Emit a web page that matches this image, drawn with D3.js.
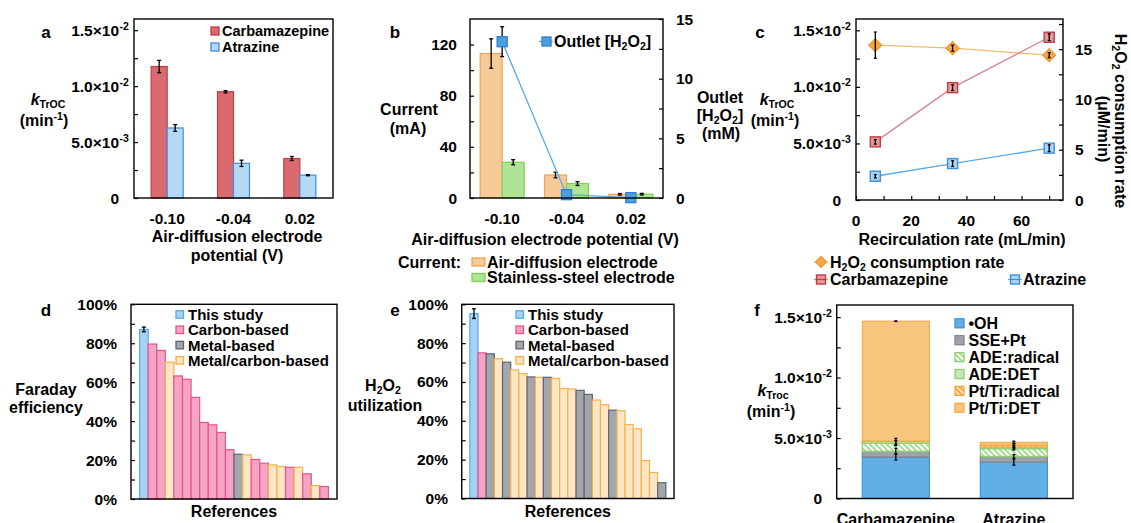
<!DOCTYPE html>
<html>
<head>
<meta charset="utf-8">
<script src="https://cdn.jsdelivr.net/npm/d3@7"></script>
<style>
  body { margin: 0; background: #fff; }
  svg { display: block; font-family: "Liberation Sans", Arial, sans-serif; font-weight: bold; }
</style>
</head>
<body>
<div id="canvas"></div>
<script>
// ---- a: k vs potential
const potentials = ["-0.10", "-0.04", "0.02"];
const kCarbPot = [0.01175, 0.0095, 0.00353];
const kCarbPotErr = [0.00055, 0.0001, 0.00018];
const kAtrPot = [0.00626, 0.0031, 0.00204];
const kAtrPotErr = [0.0003, 0.00028, 0.00005];

// ---- b: current and outlet H2O2
const currentADE = [113, 18, 2.9];
const currentADEErr = [11.5, 2.2, 0.6];
const currentSSE = [28, 11.3, 3];
const currentSSEErr = [2, 1.5, 0.6];
const outletH2O2 = [13.1, 0.28, 0.03];
const outletH2O2Err = [1.25, 0.12, 0.05];

// ---- c: recirculation rate
const recircRates = [7, 35, 70];
const kCarbFlow = [0.00514, 0.00993, 0.01439];
const kCarbFlowErr = [0.0002, 0.00025, 0.0003];
const kAtrFlow = [0.0021, 0.00322, 0.00458];
const kAtrFlowErr = [0.00015, 0.00025, 0.0003];
const h2o2Rate = [15.4, 15.1, 14.4];
const h2o2RateErr = [1.3, 0.3, 0.25];

// ---- d: faraday efficiency (T = this study, C = carbon, M = metal, MC = metal/carbon)
const faradayType = ["T","C","C","MC","C","C","C","C","C","C","C","M","MC","C","C","MC","MC","C","MC","C","MC","C"];
const faradayEff = [0.871,0.796,0.763,0.703,0.632,0.615,0.522,0.393,0.381,0.342,0.253,0.230,0.227,0.203,0.184,0.175,0.167,0.163,0.163,0.129,0.069,0.064];
const faradayErr = [0.012];

// ---- e: H2O2 utilization
const utilType = ["T","C","M","MC","M","MC","MC","M","MC","M","MC","MC","MC","M","M","MC","MC","M","MC","MC","MC","MC","MC","M"];
const utilization = [0.952,0.75,0.745,0.72,0.702,0.662,0.643,0.626,0.624,0.624,0.619,0.567,0.564,0.557,0.536,0.507,0.483,0.455,0.452,0.381,0.359,0.195,0.134,0.081];
const utilErr = [0.025];

// ---- f: contributions
const pollutants = ["Carbamazepine", "Atrazine"];
const mechanisms = ["•OH", "SSE+Pt", "ADE:radical", "ADE:DET", "Pt/Ti:radical", "Pt/Ti:DET"];
const contribCarb = [0.00343, 0.00047, 0.00068, 0.00014, 0.00003, 0.00991];
const contribAtr = [0.00301, 0.00047, 0.00064, 0.00013, 0.00016, 0.00023];
const contribCarbErr = [0.00025, 0.00025, 0.0002, 0.00025, 0, 0.00002];
const contribAtrErr = [0.00025, 0.00015, 0.0001, 0.00015, 0.00015, 0.0001];

const kTicks = [0, 0.005, 0.01, 0.015];
const kMinor = [0.0025, 0.0075, 0.0125];
const currentTicks = [0, 40, 80, 120];
const outletTicks = [0, 5, 10, 15];
const flowTicks = [0, 20, 40, 60];
const pctTicks = [0, 0.2, 0.4, 0.6, 0.8, 1];

const typeNames = {T: "This study", C: "Carbon-based", M: "Metal-based", MC: "Metal/carbon-based"};
const typeFill = {T: "#a7d1f3", C: "#f4a4c4", M: "#a3a7ad", MC: "#fde5c6"};
const typeStroke = {T: "#5aaae8", C: "#e8528e", M: "#5f656d", MC: "#f5b24a"};

const svg = d3.select("#canvas").append("svg").attr("width", 1131).attr("height", 523);
const defs = svg.append("defs");

function hatch(id, bg, fg) {
  const p = defs.append("pattern").attr("id", id).attr("patternUnits", "userSpaceOnUse")
    .attr("width", 4).attr("height", 4).attr("patternTransform", "rotate(-45)");
  p.append("rect").attr("width", 4).attr("height", 4).attr("fill", bg);
  p.append("rect").attr("width", 2).attr("height", 4).attr("fill", fg);
}
hatch("hatchGreen", "#ffffff", "#a9dc8e");
hatch("hatchOrange", "#fde3bf", "#f5a742");

// text with sub/superscript parts
function rich(x, y, parts, size, anchor = "middle") {
  const t = svg.append("text").attr("x", x).attr("y", y).attr("font-size", size).attr("text-anchor", anchor);
  let off = 0;
  parts.forEach(p => {
    const [s, kind] = typeof p === "string" ? [p, null] : p;
    const target = kind === "sub" ? size * 0.2 : kind === "sup" ? -size * 0.38 : 0;
    const ts = t.append("tspan").text(s).attr("dy", target - off);
    if (kind === "sub" || kind === "sup") ts.attr("font-size", size * 0.66);
    if (kind === "it") ts.attr("font-style", "italic");
    off = target;
  });
  return t;
}

function frame(x0, x1, y0, y1) {
  svg.append("rect").attr("x", x0).attr("y", y0).attr("width", x1 - x0).attr("height", y1 - y0)
    .attr("fill", "none").attr("stroke", "#000").attr("stroke-width", 1.4);
}

function ticks(axisFn, scale, values, tx, ty) {
  svg.append("g").attr("transform", `translate(${tx},${ty})`)
    .call(axisFn(scale).tickValues(values).tickSize(-4).tickFormat(""))
    .call(g => g.select(".domain").remove())
    .call(g => g.selectAll("line").attr("stroke-width", 1.2));
}

function sciLabel(x, y, v) {
  if (v === 0) {
    svg.append("text").attr("x", x).attr("y", y).attr("font-size", 15.5).attr("text-anchor", "end").text("0");
    return;
  }
  const e = Math.floor(Math.log10(v) + 1e-9);
  const m = (v / Math.pow(10, e)).toFixed(1);
  svg.append("text").attr("x", x).attr("y", y).attr("font-size", 15.5).attr("text-anchor", "end").text(m + "×10");
  svg.append("text").attr("x", x + 0.5).attr("y", y - 6).attr("font-size", 10.5).text(String(e));
}

function errbar(x, y1, y2, cap = 2) {
  const g = svg.append("g").attr("stroke", "#000").attr("stroke-width", 1.3);
  g.append("line").attr("x1", x).attr("x2", x).attr("y1", y1).attr("y2", y2);
  g.append("line").attr("x1", x - cap).attr("x2", x + cap).attr("y1", y1).attr("y2", y1);
  g.append("line").attr("x1", x - cap).attr("x2", x + cap).attr("y1", y2).attr("y2", y2);
}

function letter(x, y, s) {
  svg.append("text").attr("x", x).attr("y", y).attr("font-size", 17).attr("text-anchor", "middle").text(s);
}

function legendBox(x, y, w, h, fill, stroke) {
  svg.append("rect").attr("x", x).attr("y", y - h / 2).attr("width", w).attr("height", h)
    .attr("fill", fill).attr("stroke", stroke).attr("stroke-width", 1.3);
}

const red = {fill: "#d96a70", stroke: "#c23b44"};
const blue = {fill: "#b5d8f5", stroke: "#3d8fdc"};

// ================= panel a =================
{
  const x = d3.scaleBand().domain(potentials).range([134, 333]);
  const y = d3.scaleLinear().domain([0, 0.016]).range([198, 19]);
  const sub = d3.scaleBand().domain(["carb", "atr"]).range([x.bandwidth() / 2 - 16, x.bandwidth() / 2 + 16]);
  const series = [
    {key: "carb", vals: kCarbPot, errs: kCarbPotErr, c: red},
    {key: "atr", vals: kAtrPot, errs: kAtrPotErr, c: blue}
  ];
  series.forEach(s => {
    svg.append("g").selectAll("rect").data(potentials).enter().append("rect")
      .attr("x", d => x(d) + sub(s.key)).attr("width", sub.bandwidth())
      .attr("y", (d, i) => y(s.vals[i])).attr("height", (d, i) => y(0) - y(s.vals[i]))
      .attr("fill", s.c.fill).attr("stroke", s.c.stroke).attr("stroke-width", 1.2);
  });
  series.forEach(s => potentials.forEach((d, i) => {
    const cx = x(d) + sub(s.key) + sub.bandwidth() / 2;
    errbar(cx, y(s.vals[i] + s.errs[i]), y(s.vals[i] - s.errs[i]));
  }));
  frame(134, 333, 19, 198);
  ticks(d3.axisLeft, y, kTicks.concat(kMinor), 134, 0);
  kTicks.forEach(v => sciLabel(119, y(v) + 5.5, v));
  potentials.forEach(p => svg.append("text").attr("x", x(p) + x.bandwidth() / 2).attr("y", 223.5)
    .attr("font-size", 15.5).attr("text-anchor", "middle").text(p));
  svg.append("text").attr("x", 237).attr("y", 241.5).attr("font-size", 16).attr("text-anchor", "middle").text("Air-diffusion electrode");
  svg.append("text").attr("x", 237).attr("y", 261).attr("font-size", 16).attr("text-anchor", "middle").text("potential (V)");
  rich(48, 104.5, [["k", "it"], ["TrOC", "sub"]], 16);
  rich(44, 126, ["(min", ["-1", "sup"], ")"], 16);
  letter(46, 38, "a");
  legendBox(211, 31, 8, 8, red.fill, red.stroke);
  legendBox(211, 47, 8, 8, blue.fill, blue.stroke);
  svg.append("text").attr("x", 222).attr("y", 36).attr("font-size", 14.5).text("Carbamazepine");
  svg.append("text").attr("x", 222).attr("y", 52).attr("font-size", 14.5).text("Atrazine");
}

// ================= panel b =================
{
  const ade = {fill: "#f6c999", stroke: "#f0a550"};
  const sse = {fill: "#aee494", stroke: "#7dd058"};
  const x = d3.scaleBand().domain(potentials).range([470, 663]);
  const y = d3.scaleLinear().domain([0, 140]).range([198, 19]);
  const yR = d3.scaleLinear().domain([0, 15]).range([198, 19]);
  const sub = d3.scaleBand().domain(["ade", "sse"]).range([x.bandwidth() / 2 - 22, x.bandwidth() / 2 + 22]);
  const series = [
    {key: "ade", vals: currentADE, errs: currentADEErr, c: ade},
    {key: "sse", vals: currentSSE, errs: currentSSEErr, c: sse}
  ];
  series.forEach(s => {
    svg.append("g").selectAll("rect").data(potentials).enter().append("rect")
      .attr("x", d => x(d) + sub(s.key)).attr("width", sub.bandwidth())
      .attr("y", (d, i) => y(s.vals[i])).attr("height", (d, i) => y(0) - y(s.vals[i]))
      .attr("fill", s.c.fill).attr("stroke", s.c.stroke).attr("stroke-width", 1.2);
  });
  series.forEach(s => potentials.forEach((d, i) => {
    const cx = x(d) + sub(s.key) + sub.bandwidth() / 2;
    errbar(cx, y(s.vals[i] + s.errs[i]), y(Math.max(0, s.vals[i] - s.errs[i])));
  }));
  const cx = d => x(d) + x.bandwidth() / 2;
  svg.append("path").datum(potentials)
    .attr("d", d3.line().x(cx).y((d, i) => yR(outletH2O2[i])))
    .attr("fill", "none").attr("stroke", "#5aaae8").attr("stroke-width", 1.3);
  potentials.forEach((d, i) => errbar(cx(d), yR(outletH2O2[i] + outletH2O2Err[i]), yR(Math.max(0, outletH2O2[i] - outletH2O2Err[i]))));
  svg.append("g").selectAll("rect").data(potentials).enter().append("rect")
    .attr("x", d => cx(d) - 5).attr("y", (d, i) => yR(outletH2O2[i]) - 5)
    .attr("width", 10).attr("height", 10)
    .attr("fill", "#4d9fe0").attr("stroke", "#2f7fcf").attr("stroke-width", 1.3);
  frame(470, 663, 19, 198);
  ticks(d3.axisLeft, y, [0, 20, 40, 60, 80, 100, 120], 470, 0);
  ticks(d3.axisRight, yR, [0, 2.5, 5, 7.5, 10, 12.5, 15], 663, 0);
  currentTicks.forEach(v => svg.append("text").attr("x", 457).attr("y", y(v) + 5.5)
    .attr("font-size", 15.5).attr("text-anchor", "end").text(v));
  outletTicks.forEach(v => svg.append("text").attr("x", 676).attr("y", yR(v) + 5.5)
    .attr("font-size", 15.5).text(v));
  potentials.forEach(p => svg.append("text").attr("x", cx(p)).attr("y", 223.5)
    .attr("font-size", 15.5).attr("text-anchor", "middle").text(p));
  svg.append("text").attr("x", 545).attr("y", 245).attr("font-size", 16).attr("text-anchor", "middle").text("Air-diffusion electrode potential (V)");
  svg.append("text").attr("x", 409).attr("y", 114.5).attr("font-size", 16).attr("text-anchor", "middle").text("Current");
  svg.append("text").attr("x", 408).attr("y", 133.5).attr("font-size", 16).attr("text-anchor", "middle").text("(mA)");
  svg.append("text").attr("x", 720).attr("y", 102.5).attr("font-size", 16).attr("text-anchor", "middle").text("Outlet");
  rich(720, 120.5, ["[H", ["2", "sub"], "O", ["2", "sub"], "]"], 16);
  svg.append("text").attr("x", 721).attr("y", 138.5).attr("font-size", 16).attr("text-anchor", "middle").text("(mM)");
  letter(395, 38, "b");
  // top legend
  svg.append("line").attr("x1", 539).attr("x2", 553).attr("y1", 41.5).attr("y2", 41.5).attr("stroke", "#5aaae8").attr("stroke-width", 1.3);
  svg.append("rect").attr("x", 542).attr("y", 37).attr("width", 9).attr("height", 9)
    .attr("fill", "#4d9fe0").attr("stroke", "#2f7fcf").attr("stroke-width", 1.3);
  rich(554, 47, ["Outlet [H", ["2", "sub"], "O", ["2", "sub"], "]"], 16, "start");
  // bottom legend
  svg.append("text").attr("x", 398).attr("y", 267.5).attr("font-size", 16).text("Current:");
  legendBox(472, 262, 13, 8, ade.fill, ade.stroke);
  legendBox(472, 277.5, 13, 8, sse.fill, sse.stroke);
  svg.append("text").attr("x", 487).attr("y", 267.5).attr("font-size", 16).text("Air-diffusion electrode");
  svg.append("text").attr("x", 487).attr("y", 283).attr("font-size", 16).text("Stainless-steel electrode");
}

// ================= panel c =================
{
  const x = d3.scaleLinear().domain([0, 75]).range([856, 1063]);
  const y = d3.scaleLinear().domain([0, 0.016]).range([200, 19]);
  const yR = d3.scaleLinear().domain([0, 18]).range([200, 19]);
  const carb = {line: "#d9858a", fill: "#e3999d", stroke: "#c23b44"};
  const atr = {line: "#5aaae8", fill: "#aed4f3", stroke: "#3d8fdc"};
  const orange = {line: "#f5b870", fill: "#f7a744", stroke: "#ec9430"};
  const sets = [
    {vals: h2o2Rate, errs: h2o2RateErr, sc: yR, c: orange, shape: "diamond"},
    {vals: kCarbFlow, errs: kCarbFlowErr, sc: y, c: carb, shape: "square"},
    {vals: kAtrFlow, errs: kAtrFlowErr, sc: y, c: atr, shape: "square"}
  ];
  sets.forEach(s => {
    svg.append("path").datum(recircRates)
      .attr("d", d3.line().x(d => x(d)).y((d, i) => s.sc(s.vals[i])))
      .attr("fill", "none").attr("stroke", s.c.line).attr("stroke-width", 1.3);
  });
  sets.forEach(s => {
    recircRates.forEach((r, i) => {
      const px = x(r), py = s.sc(s.vals[i]);
      if (s.shape === "square") {
        svg.append("rect").attr("x", px - 5).attr("y", py - 5).attr("width", 10).attr("height", 10)
          .attr("fill", s.c.fill).attr("stroke", s.c.stroke).attr("stroke-width", 1.4);
      } else {
        svg.append("path").attr("d", `M${px},${py - 6.5}L${px + 6.5},${py}L${px},${py + 6.5}L${px - 6.5},${py}Z`)
          .attr("fill", s.c.fill).attr("stroke", s.c.stroke).attr("stroke-width", 1.2);
      }
      errbar(px, s.sc(s.vals[i] + s.errs[i]), s.sc(s.vals[i] - s.errs[i]), 1.5);
    });
  });
  frame(856, 1063, 19, 200);
  ticks(d3.axisLeft, y, kTicks.concat(kMinor), 856, 0);
  ticks(d3.axisRight, yR, [0, 2.5, 5, 7.5, 10, 12.5, 15, 17.5], 1063, 0);
  ticks(d3.axisBottom, x, [0, 10, 20, 30, 40, 50, 60, 70], 0, 200);
  kTicks.forEach(v => sciLabel(841, y(v) + 5.5, v));
  outletTicks.forEach(v => svg.append("text").attr("x", 1075).attr("y", yR(v) + 5.5).attr("font-size", 15.5).text(v));
  flowTicks.forEach(v => svg.append("text").attr("x", x(v)).attr("y", 225.5).attr("font-size", 15.5)
    .attr("text-anchor", "middle").text(v));
  svg.append("text").attr("x", 962).attr("y", 245).attr("font-size", 16).attr("text-anchor", "middle").text("Recirculation rate (mL/min)");
  rich(777, 104.5, [["k", "it"], ["TrOC", "sub"]], 16);
  rich(775, 126, ["(min", ["-1", "sup"], ")"], 16);
  rich(1115, 121, ["H", ["2", "sub"], "O", ["2", "sub"], " consumption rate"], 16).attr("transform", "rotate(90,1115,121)");
  svg.append("text").attr("x", 1098).attr("y", 129).attr("font-size", 16).attr("text-anchor", "middle")
    .attr("transform", "rotate(90,1098,129)").text("(μM/min)");
  letter(760, 38, "c");
  // legend
  const lg = [
    {x: 821, y: 262, c: orange, shape: "diamond"},
    {x: 821, y: 279.5, c: carb, shape: "square"},
    {x: 1015, y: 279.5, c: atr, shape: "square"}
  ];
  lg.forEach(l => {
    svg.append("line").attr("x1", l.x - 7).attr("x2", l.x + 7).attr("y1", l.y).attr("y2", l.y).attr("stroke", l.c.line).attr("stroke-width", 1.3);
    if (l.shape === "square") {
      svg.append("rect").attr("x", l.x - 4.5).attr("y", l.y - 4.5).attr("width", 9).attr("height", 9)
        .attr("fill", l.c.fill).attr("stroke", l.c.stroke).attr("stroke-width", 1.4);
      svg.append("line").attr("x1", l.x - 4.5).attr("x2", l.x + 4.5).attr("y1", l.y).attr("y2", l.y).attr("stroke", l.c.stroke).attr("stroke-width", 1.2);
    } else {
      svg.append("path").attr("d", `M${l.x},${l.y - 5.5}L${l.x + 5.5},${l.y}L${l.x},${l.y + 5.5}L${l.x - 5.5},${l.y}Z`)
        .attr("fill", l.c.fill).attr("stroke", l.c.stroke).attr("stroke-width", 1.2);
    }
  });
  rich(830, 267.5, ["H", ["2", "sub"], "O", ["2", "sub"], " consumption rate"], 16, "start");
  svg.append("text").attr("x", 830).attr("y", 285).attr("font-size", 16).text("Carbamazepine");
  svg.append("text").attr("x", 1023).attr("y", 285).attr("font-size", 16).text("Atrazine");
}

// ================= panels d and e =================
function refPanel(types, vals, errs, x0, x1, y0, y1, labelX, legX, title, letterPos) {
  const refs = vals.map((v, i) => "ref" + i);
  const x = d3.scaleBand().domain(refs).range([x0, x1]).paddingInner(0).paddingOuter(1);
  const y = d3.scaleLinear().domain([0, 1]).range([y1, y0]);
  svg.append("g").selectAll("rect").data(refs).enter().append("rect")
    .attr("x", d => x(d)).attr("width", x.bandwidth())
    .attr("y", (d, i) => y(vals[i])).attr("height", (d, i) => y(0) - y(vals[i]))
    .attr("fill", (d, i) => typeFill[types[i]]).attr("stroke", (d, i) => typeStroke[types[i]]).attr("stroke-width", 1.2);
  errs.forEach((e, i) => errbar(x(refs[i]) + x.bandwidth() / 2, y(vals[i] + e), y(vals[i] - e)));
  frame(x0, x1, y0, y1);
  ticks(d3.axisLeft, y, d3.range(0, 1.01, 0.1), x0, 0);
  pctTicks.forEach(v => svg.append("text").attr("x", labelX).attr("y", y(v) + 5.5).attr("font-size", 15.5)
    .attr("text-anchor", "end").text(Math.round(v * 100) + "%"));
  svg.append("text").attr("x", (x0 + x1) / 2).attr("y", 516.5).attr("font-size", 16).attr("text-anchor", "middle").text("References");
  ["T", "C", "M", "MC"].forEach((k, i) => {
    const ly = 314.5 + i * 15.3;
    legendBox(legX, ly, 7.5, 7.5, typeFill[k], typeStroke[k]);
    svg.append("text").attr("x", legX + 12).attr("y", ly + 5.5).attr("font-size", 15).text(typeNames[k]);
  });
  letter(letterPos[0], letterPos[1], title);
}
refPanel(faradayType, faradayEff, faradayErr, 131, 337, 304.3, 499, 117, 176, "d", [46, 316]);
svg.append("text").attr("x", 46).attr("y", 395).attr("font-size", 16).attr("text-anchor", "middle").text("Faraday");
svg.append("text").attr("x", 46).attr("y", 413).attr("font-size", 16).attr("text-anchor", "middle").text("efficiency");
refPanel(utilType, utilization, utilErr, 461.7, 674, 304.3, 498.5, 448, 516, "e", [395, 316]);
rich(383, 391, ["H", ["2", "sub"], "O", ["2", "sub"]], 16);
svg.append("text").attr("x", 385).attr("y", 411).attr("font-size", 16).attr("text-anchor", "middle").text("utilization");

// ================= panel f =================
{
  const mechFill = ["#62aee6", "#9ea3aa", "url(#hatchGreen)", "#c6e8b5", "url(#hatchOrange)", "#f7c57e"];
  const mechStroke = ["#3d94dc", "#80868e", "#8dd070", "#8dd070", "#f5a742", "#f5ab4a"];
  const contribs = [contribCarb, contribAtr];
  const contribErrs = [contribCarbErr, contribAtrErr];
  const table = pollutants.map((p, i) => {
    const row = {name: p};
    mechanisms.forEach((m, j) => row[m] = contribs[i][j]);
    return row;
  });
  const stacked = d3.stack().keys(mechanisms)(table);
  const x = d3.scaleBand().domain(pollutants).range([836.7, 1073]).paddingInner(0.432).paddingOuter(0.217);
  const y = d3.scaleLinear().domain([0, 0.016]).range([498.5, 305]);
  stacked.forEach((layer, j) => {
    svg.append("g").selectAll("rect").data(layer).enter().append("rect")
      .attr("x", d => x(d.data.name)).attr("width", x.bandwidth())
      .attr("y", d => y(d[1])).attr("height", d => y(d[0]) - y(d[1]))
      .attr("fill", mechFill[j]).attr("stroke", mechStroke[j]).attr("stroke-width", 1.2);
  });
  pollutants.forEach((p, i) => {
    const cx = x(p) + x.bandwidth() / 2;
    stacked.forEach((layer, j) => {
      const e = contribErrs[i][j];
      if (e > 0) errbar(cx, y(layer[i][1] + e), y(layer[i][1] - e), 1.5);
    });
  });
  frame(836.7, 1073, 305, 498.5);
  ticks(d3.axisLeft, y, kTicks.concat(kMinor), 836.7, 0);
  kTicks.forEach(v => sciLabel(822, y(v) + 5.5, v));
  pollutants.forEach(p => svg.append("text").attr("x", x(p) + x.bandwidth() / 2).attr("y", 524.5)
    .attr("font-size", 16).attr("text-anchor", "middle").text(p));
  rich(773, 395.5, [["k", "it"], ["Troc", "sub"]], 16);
  rich(771, 417, ["(min", ["-1", "sup"], ")"], 16);
  letter(757, 316, "f");
  mechanisms.forEach((m, j) => {
    const ly = 323.3 + j * 16.9;
    legendBox(955, ly, 9, 9, mechFill[j], mechStroke[j]);
    svg.append("text").attr("x", 968.5).attr("y", ly + 5.8).attr("font-size", 16).text(m);
  });
}
</script>
</body>
</html>
